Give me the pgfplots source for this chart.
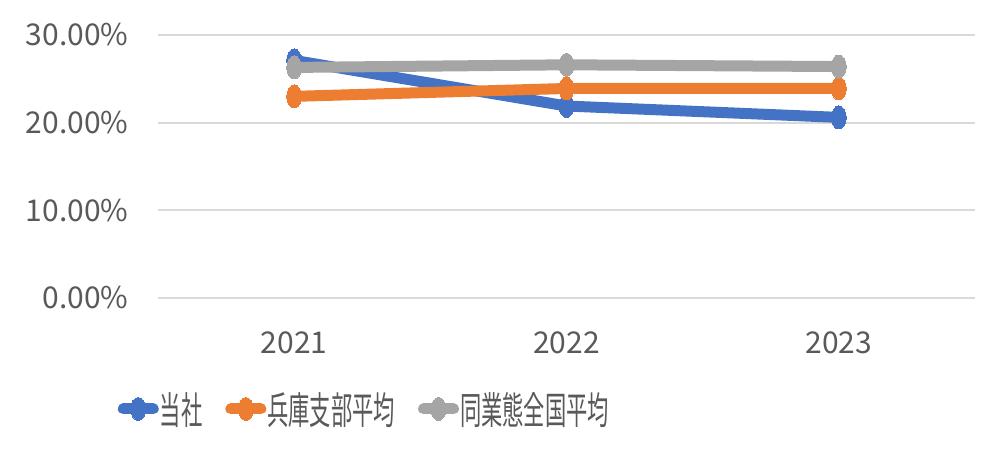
\documentclass[border=0pt]{standalone}
\usepackage{pgfplots}
\pgfplotsset{compat=1.18}
\usepackage{fontspec}
\setmainfont{Noto Sans CJK JP}
\newfontfamily\cjk[FakeStretch=0.56]{Noto Sans CJK JP}
\definecolor{cblue}{HTML}{4472C4}
\definecolor{corange}{HTML}{ED7D31}
\definecolor{cgray}{HTML}{A5A5A5}
\definecolor{cgrid}{HTML}{D9D9D9}
\definecolor{ctext}{HTML}{595959}
\begin{document}
\begin{tikzpicture}
\useasboundingbox (0,0) rectangle (1007pt,454pt);
\begin{axis}[
  at={(158pt,156pt)}, anchor=south west,
  scale only axis, width=817pt, height=263pt,
  xmin=-0.5, xmax=2.5, ymin=0, ymax=30,
  xtick={0,1,2}, xticklabels={2021,2022,2023},
  ytick={0,10,20,30},
  yticklabels={0.00\%,10.00\%,20.00\%,30.00\%},
  axis line style={draw=none},
  major tick length=0pt,
  ymajorgrids, grid style={cgrid, line width=2.2pt},
  tick label style={font=\fontsize{30}{33}\selectfont, text=ctext},
  yticklabel style={xshift=-26pt},
  xticklabel style={yshift=-30pt},
  every axis plot/.append style={line width=11pt, mark=*, mark size=11.5pt,
     mark options={xscale=0.65, line width=0pt}},
  legend columns=-1,
  legend style={draw=none, fill=none, at={(0.252,-0.422)}, anchor=center,
     font=\cjk\fontsize{38}{40}\selectfont, text=ctext,
     /tikz/every even column/.append style={column sep=22pt},
     nodes={inner sep=1pt}},
  legend image code/.code={\draw[mark repeat=2,mark phase=2,#1, line cap=round]
     plot coordinates {(6pt,0pt)(21pt,0pt)(36pt,0pt)};},
]
\addplot[cblue] coordinates {(0,27.1) (1,21.9) (2,20.6)};
\addplot[corange] coordinates {(0,23.0) (1,23.9) (2,23.9)};
\addplot[cgray] coordinates {(0,26.3) (1,26.6) (2,26.4)};
\legend{当社,兵庫支部平均,同業態全国平均}
\end{axis}
\end{tikzpicture}
\end{document}
